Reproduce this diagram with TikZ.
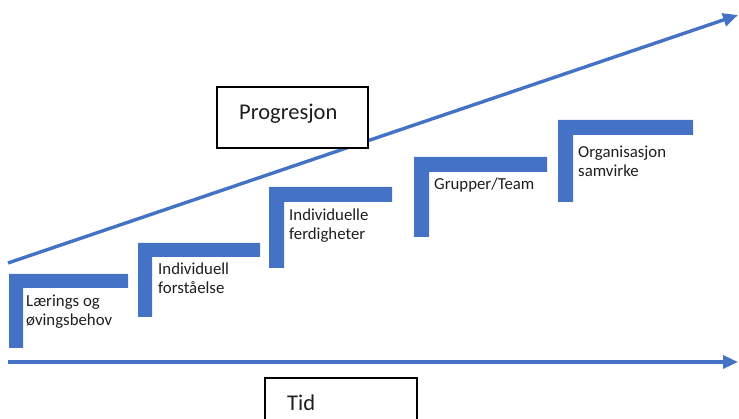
\documentclass[tikz,border=0pt]{standalone}
\usepackage{fontspec}
\setmainfont{Carlito}
\usetikzlibrary{arrows.meta}
\definecolor{stepblue}{RGB}{68,114,196}
\definecolor{txtgray}{RGB}{30,30,30}
\tikzset{
  stepshape/.style={fill=stepblue,draw=none},
  axisline/.style={draw=stepblue,line width=3.4pt,-{Triangle[length=15pt,width=13pt]}},
  steplabel/.style={anchor=west,align=left,inner sep=0pt,text=txtgray,font=\fontsize{16.8}{19}\selectfont},
  titlebox/.style={draw=black,line width=1.2pt,fill=white},
  titlelabel/.style={anchor=west,inner sep=0pt,text=txtgray,font=\fontsize{22.5}{26}\selectfont}
}
\newcommand{\stepL}[5]{% x, top, right, bottom, thickness
  \fill[stepshape] (#1,#2) -- (#3,#2) -- (#3,#2+#5) -- (#1+#5,#2+#5) -- (#1+#5,#4) -- (#1,#4) -- cycle;
}
\begin{document}
\begin{tikzpicture}[x=1pt,y=-1pt]
\useasboundingbox (0,0) rectangle (739,419);
\clip (0,0) rectangle (739,419);
% axes
\coordinate (dstart) at (8,263);
\coordinate (dend) at (738,15);
\coordinate (hstart) at (8,362);
\coordinate (hend) at (738,362);
\draw[axisline] (dstart) -- (dend);
\draw[axisline] (hstart) -- (hend);
% steps
\stepL{9}{274}{128}{348}{14}
\stepL{138}{243}{260}{317}{14}
\stepL{269}{187}{392}{268}{15}
\stepL{414}{157}{547}{237}{15}
\stepL{558}{120}{693}{202}{15}
% labels
\node[steplabel] (s1) at (26,312) {Lærings og\\øvingsbehov};
\node[steplabel] (s2) at (158,278) {Individuell\\forståelse};
\node[steplabel] (s3) at (289,226) {Individuelle\\ferdigheter};
\node[steplabel] (s4) at (434,185) {Grupper/Team};
\node[steplabel] (s5) at (578,161) {Organisasjon\\samvirke};
% boxes
\draw[titlebox] (217,87) rectangle (368,148);
\node[titlelabel] (prog) at (239,114) {Progresjon};
\draw[titlebox] (265,378) rectangle (417,430);
\node[titlelabel] (tid) at (287,403) {Tid};
\end{tikzpicture}
\end{document}
